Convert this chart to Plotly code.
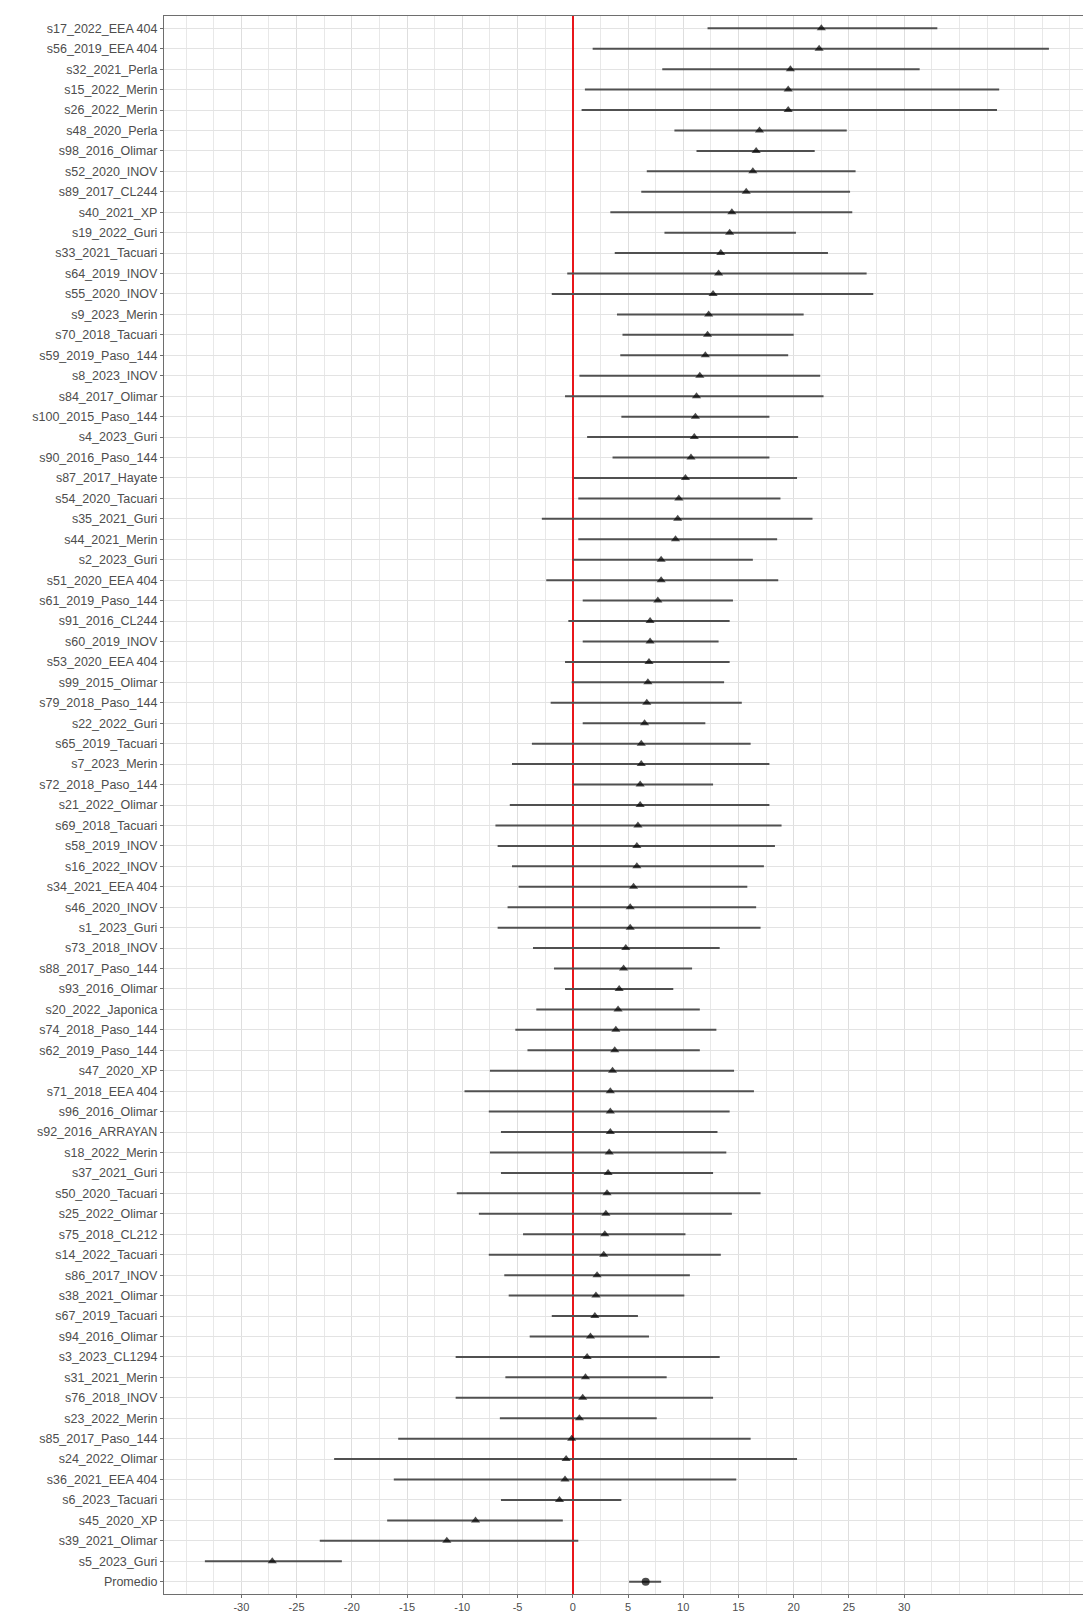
import plotly.graph_objects as go

labels = [
    "s17_2022_EEA 404", "s56_2019_EEA 404", "s32_2021_Perla", "s15_2022_Merin", "s26_2022_Merin",
    "s48_2020_Perla", "s98_2016_Olimar", "s52_2020_INOV", "s89_2017_CL244", "s40_2021_XP",
    "s19_2022_Guri", "s33_2021_Tacuari", "s64_2019_INOV", "s55_2020_INOV", "s9_2023_Merin",
    "s70_2018_Tacuari", "s59_2019_Paso_144", "s8_2023_INOV", "s84_2017_Olimar", "s100_2015_Paso_144",
    "s4_2023_Guri", "s90_2016_Paso_144", "s87_2017_Hayate", "s54_2020_Tacuari", "s35_2021_Guri",
    "s44_2021_Merin", "s2_2023_Guri", "s51_2020_EEA 404", "s61_2019_Paso_144", "s91_2016_CL244",
    "s60_2019_INOV", "s53_2020_EEA 404", "s99_2015_Olimar", "s79_2018_Paso_144", "s22_2022_Guri",
    "s65_2019_Tacuari", "s7_2023_Merin", "s72_2018_Paso_144", "s21_2022_Olimar", "s69_2018_Tacuari",
    "s58_2019_INOV", "s16_2022_INOV", "s34_2021_EEA 404", "s46_2020_INOV", "s1_2023_Guri",
    "s73_2018_INOV", "s88_2017_Paso_144", "s93_2016_Olimar", "s20_2022_Japonica", "s74_2018_Paso_144",
    "s62_2019_Paso_144", "s47_2020_XP", "s71_2018_EEA 404", "s96_2016_Olimar", "s92_2016_ARRAYAN",
    "s18_2022_Merin", "s37_2021_Guri", "s50_2020_Tacuari", "s25_2022_Olimar", "s75_2018_CL212",
    "s14_2022_Tacuari", "s86_2017_INOV", "s38_2021_Olimar", "s67_2019_Tacuari", "s94_2016_Olimar",
    "s3_2023_CL1294", "s31_2021_Merin", "s76_2018_INOV", "s23_2022_Merin", "s85_2017_Paso_144",
    "s24_2022_Olimar", "s36_2021_EEA 404", "s6_2023_Tacuari", "s45_2020_XP", "s39_2021_Olimar",
    "s5_2023_Guri", "Promedio",
]

estimate = [
    22.5, 22.3, 19.7, 19.5, 19.5, 16.9, 16.6, 16.3, 15.7, 14.4,
    14.2, 13.4, 13.2, 12.7, 12.3, 12.2, 12.0, 11.5, 11.2, 11.1,
    11.0, 10.7, 10.2, 9.6, 9.5, 9.3, 8.0, 8.0, 7.7, 7.0,
    7.0, 6.9, 6.8, 6.7, 6.5, 6.2, 6.2, 6.1, 6.1, 5.9,
    5.8, 5.8, 5.5, 5.2, 5.2, 4.8, 4.6, 4.2, 4.1, 3.9,
    3.8, 3.6, 3.4, 3.4, 3.4, 3.3, 3.2, 3.1, 3.0, 2.9,
    2.8, 2.2, 2.1, 2.0, 1.6, 1.3, 1.15, 0.9, 0.6, -0.1,
    -0.6, -0.7, -1.2, -8.8, -11.4, -27.2, 6.6,
]

lower = [
    12.2, 1.8, 8.1, 1.1, 0.8, 9.2, 11.2, 6.7, 6.2, 3.4,
    8.3, 3.8, -0.5, -1.9, 4.0, 4.5, 4.3, 0.6, -0.7, 4.4,
    1.3, 3.6, 0.1, 0.5, -2.8, 0.5, 0.0, -2.4, 0.9, -0.4,
    0.9, -0.7, -0.1, -2.0, 0.9, -3.7, -5.5, 0.0, -5.7, -7.0,
    -6.8, -5.5, -4.9, -5.9, -6.8, -3.6, -1.7, -0.7, -3.3, -5.2,
    -4.1, -7.5, -9.8, -7.6, -6.5, -7.5, -6.5, -10.5, -8.5, -4.5,
    -7.6, -6.2, -5.8, -1.9, -3.9, -10.6, -6.1, -10.6, -6.6, -15.8,
    -21.6, -16.2, -6.5, -16.8, -22.9, -33.3, 5.1,
]

upper = [
    33.0, 43.1, 31.4, 38.6, 38.4, 24.8, 21.9, 25.6, 25.1, 25.3,
    20.2, 23.1, 26.6, 27.2, 20.9, 20.0, 19.5, 22.4, 22.7, 17.8,
    20.4, 17.8, 20.3, 18.8, 21.7, 18.5, 16.3, 18.6, 14.5, 14.2,
    13.2, 14.2, 13.7, 15.3, 12.0, 16.1, 17.8, 12.7, 17.8, 18.9,
    18.3, 17.3, 15.8, 16.6, 17.0, 13.3, 10.8, 9.1, 11.5, 13.0,
    11.5, 14.6, 16.4, 14.2, 13.1, 13.9, 12.7, 17.0, 14.4, 10.2,
    13.4, 10.6, 10.1, 5.9, 6.9, 13.3, 8.5, 12.7, 7.6, 16.1,
    20.3, 14.8, 4.4, -0.9, 0.5, -20.9, 8.0,
]

x_ticks = [-30, -25, -20, -15, -10, -5, 0, 5, 10, 15, 20, 25, 30]

symbols = ["circle" if lab == "Promedio" else "triangle-up" for lab in labels]
sizes = [8 if lab == "Promedio" else 8 for lab in labels]

fig = go.Figure()
fig.add_trace(go.Scatter(
    x=estimate,
    y=labels,
    mode="markers",
    marker=dict(symbol=symbols, size=sizes, color="black", line=dict(width=0)),
    error_x=dict(
        type="data",
        symmetric=False,
        array=[u - e for u, e in zip(upper, estimate)],
        arrayminus=[e - l for e, l in zip(estimate, lower)],
        width=0,
        thickness=2,
        color="#505050",
    ),
    showlegend=False,
))

n = len(labels)
fig.update_layout(
    width=1091,
    height=1611,
    margin=dict(l=156, r=6, t=8, b=23),
    paper_bgcolor="white",
    plot_bgcolor="white",
    font=dict(family="Liberation Sans, Arial, sans-serif", color="#4d4d4d"),
    xaxis=dict(
        range=[-37.0, 47.0],
        tickmode="array",
        tickvals=x_ticks,
        ticktext=[str(v) for v in x_ticks],
        tickfont=dict(size=11, color="#4d4d4d"),
        showgrid=True,
        gridcolor="#dedede",
        gridwidth=1,
        minor=dict(dtick=2.5, tick0=0, showgrid=True, gridcolor="#e8e8e8", gridwidth=1),
        zeroline=True,
        zerolinecolor="#e8161b",
        zerolinewidth=1.5,
        showline=True,
        linecolor="#6e6e6e",
        linewidth=1.2,
        mirror=True,
        ticks="outside",
        ticklen=3,
        tickcolor="#6e6e6e",
    ),
    yaxis=dict(
        type="category",
        categoryorder="array",
        categoryarray=labels,
        range=[n - 1 + 0.6, -0.6],
        tickfont=dict(size=12.5, color="#4d4d4d"),
        showgrid=True,
        gridcolor="#e3e3e3",
        gridwidth=1,
        showline=True,
        linecolor="#6e6e6e",
        linewidth=1.2,
        mirror=True,
        ticks="outside",
        ticklen=3,
        tickcolor="#6e6e6e",
    ),
)

fig.write_html("out.html")
